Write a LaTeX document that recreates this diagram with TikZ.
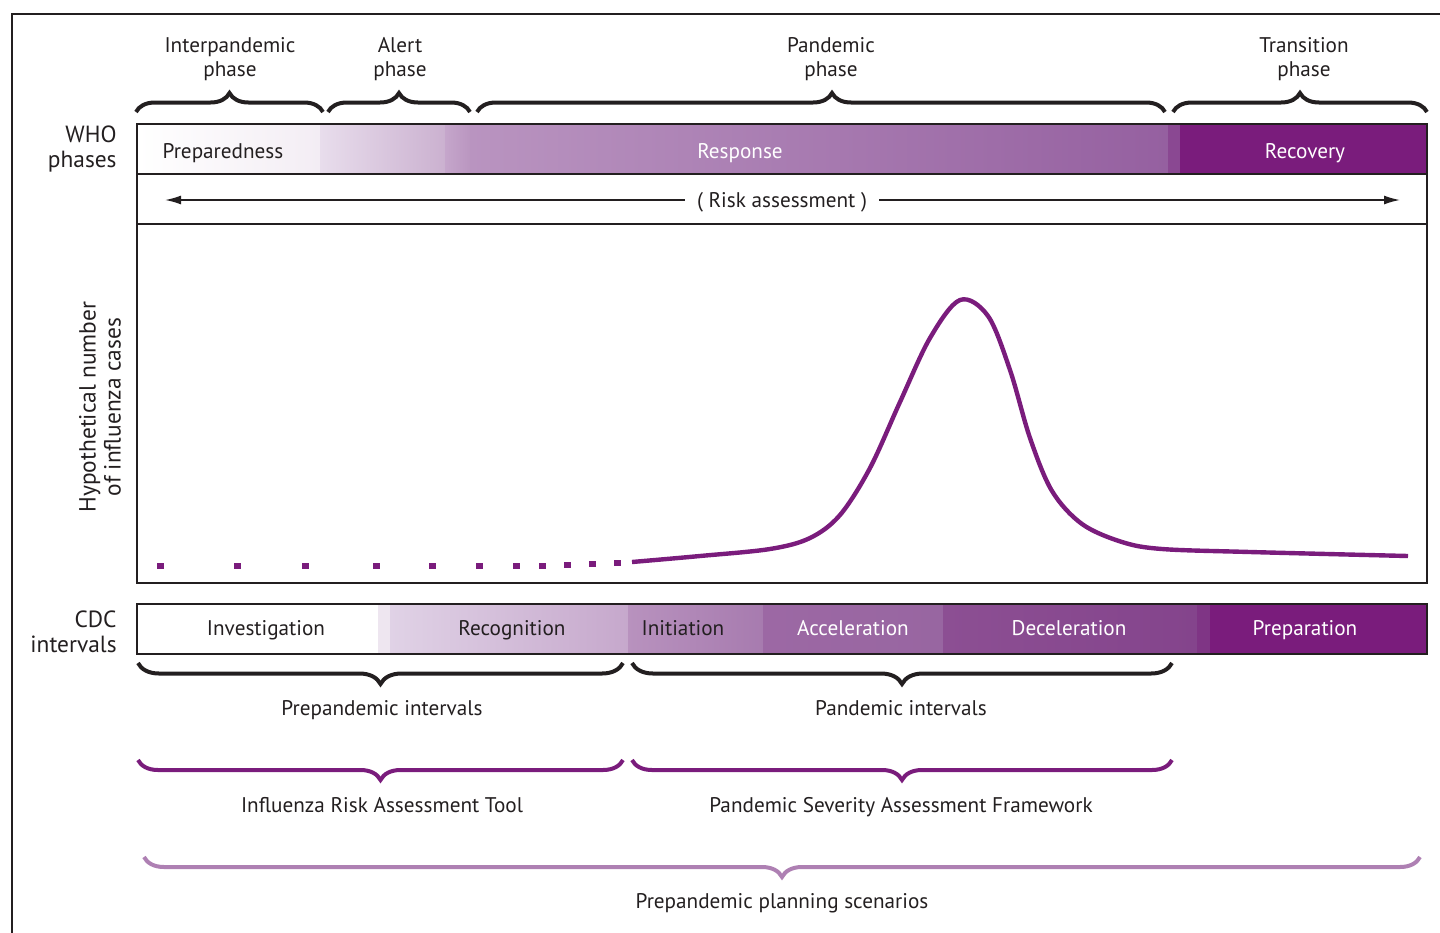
\documentclass[tikz,border=0pt]{standalone}
\usepackage{fontspec}
\setmainfont{PT Sans}
\usetikzlibrary{arrows.meta,decorations.pathreplacing,positioning}
\definecolor{textdark}{RGB}{35,31,32}
\definecolor{purpdark}{RGB}{122,28,124}
\definecolor{purplite}{RGB}{174,128,179}
% WHO bar steps
\definecolor{whoA}{RGB}{243,237,244}
\definecolor{whoB}{RGB}{232,221,236}
\definecolor{whoC}{RGB}{203,177,208}
\definecolor{whoD}{RGB}{197,166,203}
\definecolor{whoE}{RGB}{186,150,192}
\definecolor{whoF}{RGB}{185,148,192}
\definecolor{whoG}{RGB}{149,96,160}
\definecolor{whoH}{RGB}{138,72,146}
% CDC bar steps
\definecolor{cdcA}{RGB}{238,230,240}
\definecolor{cdcB}{RGB}{224,210,230}
\definecolor{cdcC}{RGB}{198,168,204}
\definecolor{cdcD}{RGB}{184,146,190}
\definecolor{cdcE}{RGB}{167,123,175}
\definecolor{cdcF}{RGB}{156,104,164}
\definecolor{cdcG}{RGB}{152,102,161}
\definecolor{cdcH}{RGB}{140,79,147}
\definecolor{cdcI}{RGB}{132,68,140}
\definecolor{cdcJ}{RGB}{127,53,133}

\begin{document}
\begin{tikzpicture}[
  x=0.5pt, y=-0.5pt,
  font=\fontsize{10.6}{12}\selectfont, >={Latex[length=8pt,width=4.5pt]},
  bracetop/.style={decorate, decoration={brace, amplitude=9.5pt}, line width=2pt, draw=textdark},
  bracebot/.style={decorate, decoration={brace, mirror, amplitude=10.5pt}, line width=2pt},
  barline/.style={draw=textdark, line width=1.3pt},
  lbl/.style={align=center, text=textdark, inner sep=1pt},
  lblside/.style={align=right, text=textdark, anchor=east, inner sep=1pt, font=\fontsize{11.7}{12.5}\selectfont},
  bartxt/.style={text=textdark, inner sep=1pt, text height=1.8ex, text depth=0.3ex},
  inbar/.style={bartxt, text=white}
]
\useasboundingbox (0,0) rectangle (1440,932);
\draw[textdark, line width=1pt] (12,945) -- (12,14) -- (1450,14);

% WHO phases bar
\shade[left color=white, right color=whoA] (137,124) rectangle (320,174);
\shade[left color=whoB, right color=whoC] (320,124) rectangle (445,174);
\shade[left color=whoD, right color=whoE] (445,124) rectangle (470,174);
\shade[left color=whoF, right color=whoG] (470,124) rectangle (1168,174);
\fill[whoH] (1168,124) rectangle (1180,174);
\fill[purpdark] (1180,124) rectangle (1427,174);

% CDC intervals bar
\fill[cdcA] (378,604) rectangle (390,654);
\shade[left color=cdcB, right color=cdcC] (390,604) rectangle (628,654);
\shade[left color=cdcD, right color=cdcE] (628,604) rectangle (763,654);
\shade[left color=cdcF, right color=cdcG] (763,604) rectangle (943,654);
\shade[left color=cdcH, right color=cdcI] (943,604) rectangle (1197,654);
\fill[cdcJ] (1197,604) rectangle (1210,654);
\fill[purpdark] (1210,604) rectangle (1427,654);

\draw[barline] (137,124) rectangle (1427,583);
\draw[barline] (137,174) -- (1427,174);
\draw[barline] (137,224) -- (1427,224);
\draw[barline] (137,604) rectangle (1427,654);

% phase labels and braces
\node[lbl] (interp) at (230,59) {Interpandemic\\phase};
\node[lbl] (alert) at (400,59) {Alert\\phase};
\node[lbl] (pandem) at (831,59) {Pandemic\\phase};
\node[lbl] (transit) at (1304,59) {Transition\\phase};
\draw[bracetop] (136,112) -- (323,112);
\draw[bracetop] (328,112) -- (470,112);
\draw[bracetop, decoration={aspect=0.516}] (477,112) -- (1165,112);
\draw[bracetop] (1173,112) -- (1427,112);

\node[lblside] (who) at (119,149) {WHO\\phases};
\node[lblside] (cdc) at (119,632) {CDC\\intervals};
\node[lblside, anchor=center, align=center, rotate=90] (ylab) at (100,407) {Hypothetical number\\of influenza cases};

\node[bartxt] (prep) at (223,151) {Preparedness};
\node[inbar] (resp) at (740,151) {Response};
\node[inbar] (recov) at (1305,151) {Recovery};

% risk assessment arrows
\node[bartxt, inner xsep=6pt] (risk) at (782,200) {( Risk assessment )};
\coordinate (riskW) at (165,200);
\coordinate (riskE) at (1400,200);
\draw[->, line width=0.8pt, textdark] (risk.west) -- (riskW);
\draw[->, line width=0.8pt, textdark] (risk.east) -- (riskE);

% hypothetical curve
\foreach \xd/\yd in {160/566,237/566,305/566,376/566,432/566,479/566,516/566,542/565.5,567/565,592/564,617/563}
  \fill[purpdark] (\xd-3.5,\yd-3) rectangle (\xd+3.5,\yd+3);
\draw[purpdark, line width=2.2pt] plot[smooth, tension=0.55] coordinates {
  (632,562) (700,556) (770,549) (810,538) (840,515) (870,468) (900,402) (930,338)
  (960,300) (988,316) (1010,370) (1030,438) (1052,491) (1082,524) (1122,542)
  (1162,549) (1250,552) (1408,556)};

\node[bartxt] (invest) at (266,628) {Investigation};
\node[bartxt] (recog) at (512,628) {Recognition};
\node[bartxt] (initi) at (683,628) {Initiation};
\node[inbar] (accel) at (853,628) {Acceleration};
\node[inbar] (decel) at (1069,628) {Deceleration};
\node[inbar] (prepar) at (1305,628) {Preparation};

% interval braces
\draw[bracebot, draw=textdark] (138,663) -- (623,663);
\draw[bracebot, draw=textdark] (632,663) -- (1172,663);
\node[bartxt] (preint) at (382,708) {Prepandemic intervals};
\node[bartxt] (panint) at (901,708) {Pandemic intervals};

\draw[bracebot, draw=purpdark, decoration={amplitude=10pt}] (138,760) -- (623,760);
\draw[bracebot, draw=purpdark, decoration={amplitude=10pt}] (632,760) -- (1172,760);
\node[bartxt] (irat) at (382,805) {Influenza Risk Assessment Tool};
\node[bartxt] (psaf) at (901,805) {Pandemic Severity Assessment Framework};

\draw[bracebot, draw=purplite, decoration={amplitude=10pt}] (144,857) -- (1420,857);
\node[bartxt] (plan) at (782,901) {Prepandemic planning scenarios};
\end{tikzpicture}
\end{document}
